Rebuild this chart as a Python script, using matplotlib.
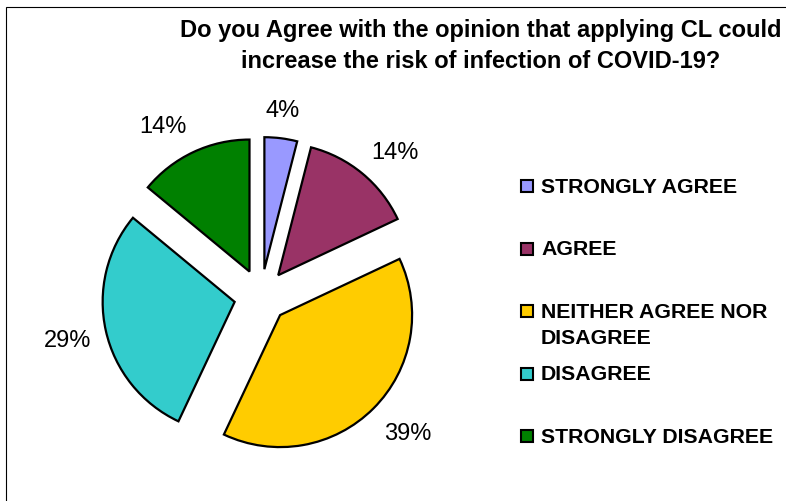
import numpy as np
import matplotlib.pyplot as plt
from matplotlib.patches import Rectangle

plt.rcParams['font.family'] = ['Liberation Sans', 'DejaVu Sans']

categories = ['STRONGLY AGREE', 'AGREE', 'NEITHER AGREE NOR\nDISAGREE',
              'DISAGREE', 'STRONGLY DISAGREE']
values = [4, 14, 39, 29, 14]
colors = ['#9999FF', '#993366', '#FFCC00', '#33CCCC', '#008000']
title = 'Do you Agree with the opinion that applying CL could\nincrease the risk of infection of COVID-19?'

W, H = 786, 502
fig = plt.figure(figsize=(W / 100, H / 100), dpi=100)
ax = fig.add_axes([0, 0, 1, 1])

# outer chart frame (cut off at right/bottom like the original)
ax.add_patch(Rectangle((6, -10), W + 20, H - 8 + 10, fill=False,
                       edgecolor='black', lw=0.8))

R = 132
LABEL_PT = 17
wedges, texts, autotexts = ax.pie(
    values, colors=colors, startangle=90, counterclock=False,
    center=(261, H - 297), radius=R, explode=[27] * len(values),
    autopct=lambda p: f'{p:.0f}%', pctdistance=1.3,
    wedgeprops=dict(edgecolor='black', linewidth=1.6),
    textprops=dict(fontsize=LABEL_PT, color='black'))
ax.set_xlim(0, W)
ax.set_ylim(0, H)
ax.set_aspect('equal')
ax.axis('off')

# "outside end" labels: box edge touches an anchor just outside the arc
cap = 0.716 * LABEL_PT * 100 / 72
for w, t in zip(wedges, autotexts):
    th = np.deg2rad((w.theta1 + w.theta2) / 2)
    c, s = np.cos(th), np.sin(th)
    g = 1.11 * R
    ax_, ay_ = w.center[0] + g * c, w.center[1] + g * s
    if abs(c) < 0.3:
        t.set_ha('center')
    else:
        t.set_ha('left' if c > 0 else 'right')
    t.set_va('baseline')
    t.set_position((ax_, ay_ + s * cap - cap / 2))

fig.text(481 / W, 1 - 68 / H, title, ha='center', va='baseline',
         fontsize=17, fontweight='bold', linespacing=1.45)

# legend drawn by hand so that entries keep an even pitch
for i, (lab, col) in enumerate(zip(categories, colors)):
    base = 193 + i * 62.5
    ax.add_patch(Rectangle((521, H - base), 12, 12, facecolor=col,
                           edgecolor='black', lw=1.5))
    lines = lab.split('\n')
    for j, line in enumerate(lines):
        ax.text(541, H - base - 26 * j, line, ha='left', va='baseline',
                fontsize=15.3, fontweight='bold')

fig.savefig('out.png', dpi=100)
